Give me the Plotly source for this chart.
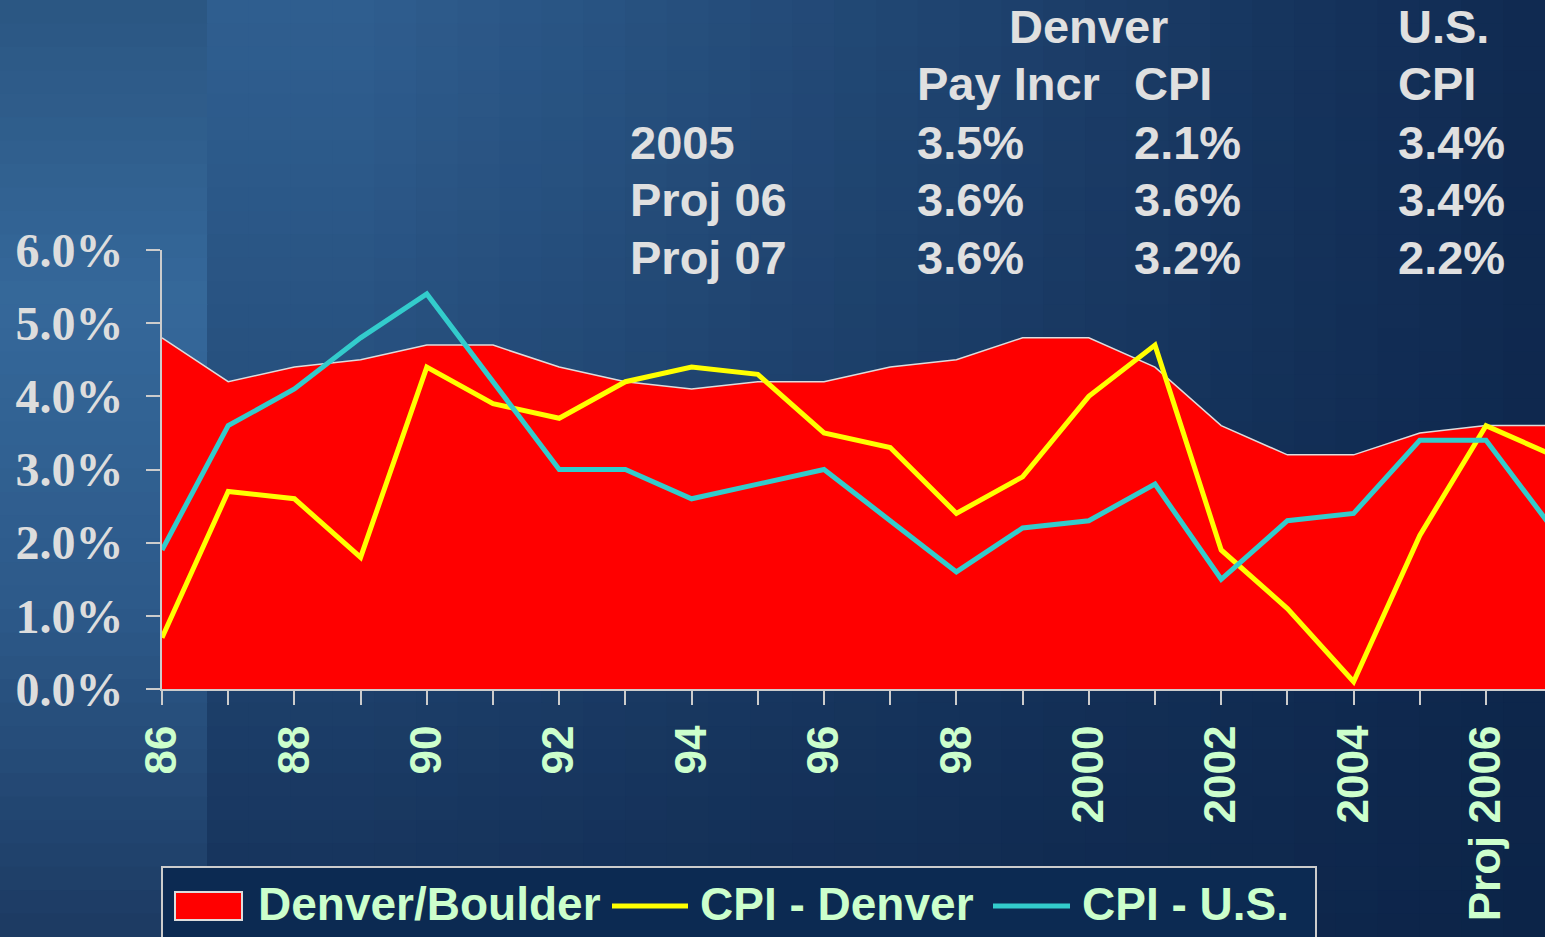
import plotly.graph_objects as go

# data
years = ["86", "87", "88", "89", "90", "91", "92", "93", "94", "95", "96", "97",
         "98", "99", "2000", "2001", "2002", "2003", "2004", "2005", "Proj 2006", "Proj 2007"]
tick_text = ["86", "", "88", "", "90", "", "92", "", "94", "", "96", "",
             "98", "", "2000", "", "2002", "", "2004", "", "Proj 2006", ""]
pay_incr = [4.8, 4.2, 4.4, 4.5, 4.7, 4.7, 4.4, 4.2, 4.1, 4.2, 4.2, 4.4,
            4.5, 4.8, 4.8, 4.4, 3.6, 3.2, 3.2, 3.5, 3.6, 3.6]
cpi_denver = [0.7, 2.7, 2.6, 1.8, 4.4, 3.9, 3.7, 4.2, 4.4, 4.3, 3.5, 3.3,
              2.4, 2.9, 4.0, 4.7, 1.9, 1.1, 0.1, 2.1, 3.6, 3.2]
cpi_us = [1.9, 3.6, 4.1, 4.8, 5.4, 4.2, 3.0, 3.0, 2.6, 2.8, 3.0, 2.3,
          1.6, 2.2, 2.3, 2.8, 1.5, 2.3, 2.4, 3.4, 3.4, 2.2]
y_ticks = [0, 1, 2, 3, 4, 5, 6]

table_rows = ["2005", "Proj 06", "Proj 07"]
table_pay = [3.5, 3.6, 3.6]
table_den_cpi = [2.1, 3.6, 3.2]
table_us_cpi = [3.4, 3.4, 2.2]

RED, YELLOW, TEAL = "#ff0000", "#ffff00", "#33cccc"

W, H = 1545, 937
L, T, B = 162, 250, 248
PW, PH = W - L, H - T - B


def px(x):
    return (x - L) / PW


def py(y):
    return (H - B - y) / PH


def lerp(a, b, t):
    return tuple(int(round(a[i] + (b[i] - a[i]) * t)) for i in range(3))


def bg_color(x, y):
    if x < 207:
        stops = [(0, (43, 86, 130)), (300, (53, 104, 154)), (600, (45, 90, 138)), (937, (28, 58, 98))]
        for (y0, c0), (y1, c1) in zip(stops, stops[1:]):
            if y <= y1:
                return lerp(c0, c1, (y - y0) / (y1 - y0))
        return stops[-1][1]
    t = min(max((x - 350) / (W - 350), 0), 1)
    top = lerp((47, 94, 143), (15, 41, 80), t)
    bot = lerp((20, 48, 88), (12, 36, 72), t)
    return lerp(top, bot, (y / H) ** 1.3)


shapes = []
rows = 40
for r in range(rows):
    y0, y1 = H * r / rows, H * (r + 1) / rows
    cols = [(0, 207)] + [(207 + (W - 207) * c / 32, 207 + (W - 207) * (c + 1) / 32) for c in range(32)]
    for x0, x1 in cols:
        c = bg_color((x0 + x1) / 2, (y0 + y1) / 2)
        shapes.append(dict(type="rect", xref="paper", yref="paper", layer="below",
                           x0=px(x0), x1=px(x1 + 1), y0=py(y1 + 1), y1=py(y0),
                           fillcolor="rgb(%d,%d,%d)" % c, line=dict(width=0)))

fig = go.Figure()
fig.add_trace(go.Scatter(x=years, y=pay_incr, name="Denver/Boulder", mode="lines",
                         fill="tozeroy", fillcolor=RED,
                         line=dict(color="#dddddd", width=1.5)))
fig.add_trace(go.Scatter(x=years, y=cpi_denver, name="CPI - Denver", mode="lines",
                         line=dict(color=YELLOW, width=5)))
fig.add_trace(go.Scatter(x=years, y=cpi_us, name="CPI - U.S.", mode="lines",
                         line=dict(color=TEAL, width=5)))

table_font = dict(family="Liberation Sans, Arial", size=47, color="#e0e0e0", weight="bold")
ann = []


def text(s, x, y, anchor="left", font=table_font):
    ann.append(dict(text=s, x=px(x), y=py(y), xref="paper", yref="paper", showarrow=False,
                    xanchor=anchor, yanchor="middle", font=font))


text("Denver", 1088, 26, "center")
text("U.S.", 1396, 26)
text("Pay Incr", 915, 84)
text("CPI", 1132, 84)
text("CPI", 1396, 84)
for i, lab in enumerate(table_rows):
    yy = 142 + 57.5 * i
    text(lab, 628, yy)
    text("%.1f%%" % table_pay[i], 915, yy)
    text("%.1f%%" % table_den_cpi[i], 1132, yy)
    text("%.1f%%" % table_us_cpi[i], 1396, yy)

# legend box drawn by hand so the swatches match the original slide
legend_font = dict(family="Liberation Sans, Arial", size=46, color="#ccffcc", weight="bold")
shapes.append(dict(type="rect", xref="paper", yref="paper", x0=px(162), x1=px(1316),
                   y0=py(950), y1=py(867), fillcolor="#0c2a52",
                   line=dict(color="#cccccc", width=2)))
shapes.append(dict(type="rect", xref="paper", yref="paper", x0=px(175), x1=px(242),
                   y0=py(920), y1=py(892), fillcolor=RED,
                   line=dict(color="#dddddd", width=2)))
for x0, x1, col in [(612, 688, YELLOW), (993, 1070, TEAL)]:
    shapes.append(dict(type="line", xref="paper", yref="paper", x0=px(x0), x1=px(x1),
                       y0=py(906), y1=py(906), line=dict(color=col, width=5)))
for s, x in [("Denver/Boulder", 256), ("CPI - Denver", 698), ("CPI - U.S.", 1080)]:
    text(s, x, 904, font=legend_font)

fig.update_layout(
    width=W, height=H,
    margin=dict(l=L, r=0, t=T, b=B),
    paper_bgcolor="#0e2a52", plot_bgcolor="rgba(0,0,0,0)",
    shapes=shapes, annotations=ann, showlegend=False,
    xaxis=dict(type="category", range=[0, PW / 66.2], tickmode="array",
               tickvals=years, ticktext=tick_text, tickangle=-90,
               ticks="outside", ticklen=14, tickwidth=2, tickcolor="#cccccc",
               showline=True, linecolor="#cccccc", linewidth=2, showgrid=False,
               ticklabelstandoff=3,
               tickfont=dict(family="Liberation Sans, Arial", size=44, color="#ccffcc", weight="bold")),
    yaxis=dict(range=[0, 6], tickvals=y_ticks,
               ticktext=["%.1f%%" % v for v in y_ticks], tickmode="array",
               ticks="outside", ticklen=14, tickwidth=2, tickcolor="#cccccc",
               showline=True, linecolor="#cccccc", linewidth=2, showgrid=False,
               zeroline=False, ticklabelstandoff=13,
               tickfont=dict(family="Liberation Serif, Times New Roman", size=48,
                             color="#dddddd", weight="bold")),
)

fig.write_html("out.html", config={"displayModeBar": False},
               post_script="document.body.style.margin='0';document.body.style.overflow='hidden';")
